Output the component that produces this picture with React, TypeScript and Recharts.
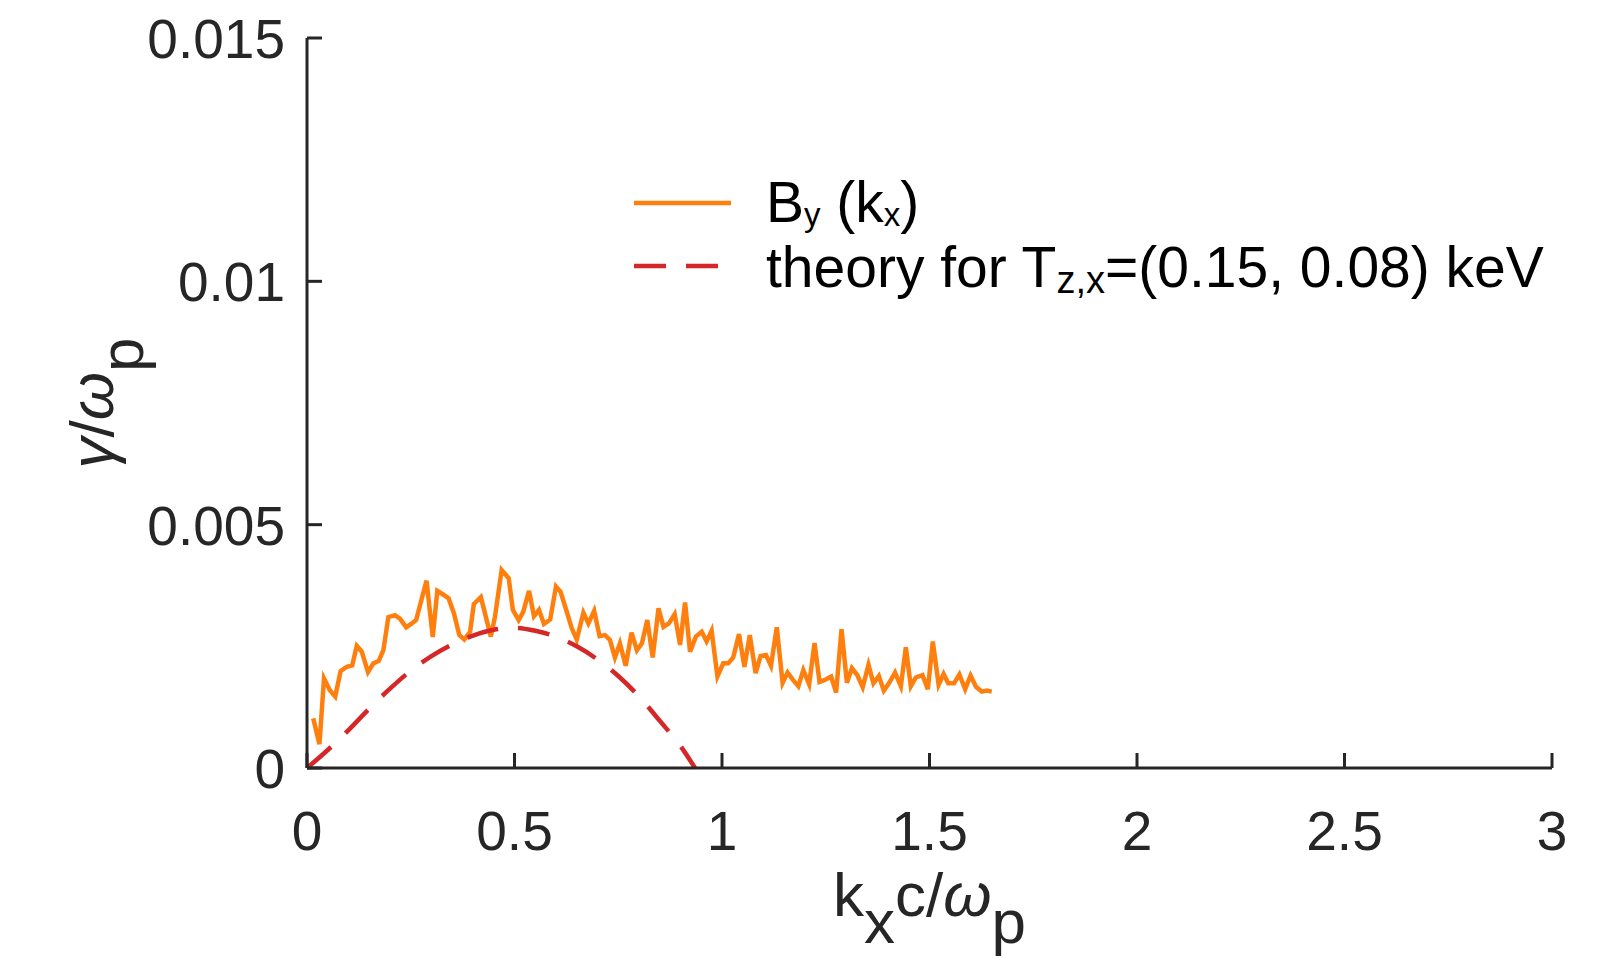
import { Line, LineChart, XAxis, YAxis, Label } from "recharts";

const FONT = '"Liberation Sans", Arial, Helvetica, sans-serif';
const AXIS_COLOR = "#262626";
const ORANGE = "#FF7F0E";
const RED = "#D62728";

// simulated growth rate of B_y vs k_x
const byK = [
  0.015, 0.03, 0.041, 0.055, 0.068, 0.081, 0.096, 0.109, 0.12, 0.132, 0.147, 0.16, 0.173, 0.184,
  0.196, 0.212, 0.224, 0.239, 0.251, 0.263, 0.288, 0.303, 0.314, 0.327, 0.341, 0.354, 0.367,
  0.379, 0.393, 0.402, 0.419, 0.443, 0.453, 0.469, 0.486, 0.496, 0.51, 0.521, 0.535, 0.547,
  0.559, 0.571, 0.586, 0.6, 0.611, 0.626, 0.638, 0.65, 0.666, 0.678, 0.692, 0.705, 0.718, 0.73,
  0.742, 0.754, 0.768, 0.782, 0.795, 0.807, 0.82, 0.833, 0.847, 0.859, 0.872, 0.886, 0.899,
  0.911, 0.923, 0.937, 0.951, 0.963, 0.975, 0.989, 1.003, 1.015, 1.027, 1.041, 1.054, 1.067,
  1.081, 1.093, 1.106, 1.118, 1.132, 1.146, 1.158, 1.171, 1.184, 1.196, 1.21, 1.223, 1.235,
  1.248, 1.263, 1.275, 1.288, 1.301, 1.313, 1.326, 1.339, 1.353, 1.365, 1.378, 1.39, 1.403,
  1.417, 1.431, 1.443, 1.455, 1.467, 1.483, 1.496, 1.508, 1.522, 1.534, 1.545, 1.559, 1.572,
  1.586, 1.599, 1.612, 1.626, 1.638, 1.65,
];
const byGamma = [
  0.00102, 0.00049, 0.00184, 0.0016, 0.00147, 0.00199, 0.00208, 0.00211, 0.00251, 0.00239,
  0.00197, 0.00215, 0.0022, 0.00242, 0.0031, 0.00314, 0.00307, 0.00289, 0.00296, 0.00304,
  0.00385, 0.00269, 0.00364, 0.00357, 0.00349, 0.00318, 0.00273, 0.00264, 0.0028, 0.00337,
  0.00351, 0.0027, 0.00311, 0.00407, 0.0039, 0.00325, 0.00304, 0.00321, 0.00364, 0.00312,
  0.00325, 0.00296, 0.00305, 0.00373, 0.00362, 0.00321, 0.00287, 0.00264, 0.00319, 0.00297,
  0.00323, 0.00271, 0.00273, 0.00263, 0.00227, 0.00256, 0.0021, 0.00278, 0.00242, 0.00256,
  0.00304, 0.00227, 0.00328, 0.0029, 0.00297, 0.00316, 0.00253, 0.0034, 0.00239, 0.0027,
  0.0028, 0.0026, 0.00282, 0.00188, 0.00215, 0.00215, 0.00227, 0.00275, 0.00208, 0.00273,
  0.00195, 0.0023, 0.00232, 0.0021, 0.00289, 0.00175, 0.00196, 0.00181, 0.00168, 0.00201,
  0.00172, 0.00257, 0.00177, 0.00181, 0.00188, 0.00155, 0.00285, 0.00175, 0.00205, 0.00191,
  0.00166, 0.00212, 0.00174, 0.00189, 0.00159, 0.00175, 0.00196, 0.00168, 0.00248, 0.00168,
  0.00186, 0.00191, 0.00162, 0.0026, 0.00171, 0.00193, 0.00174, 0.00174, 0.00192, 0.00162,
  0.0019, 0.00167, 0.00157, 0.00159, 0.00157,
];

// theory curve for T_z,x = (0.15, 0.08) keV
const theoryK = [
  0, 0.05, 0.1, 0.15, 0.2, 0.25, 0.3, 0.35, 0.4, 0.45, 0.5, 0.55, 0.6, 0.65, 0.7, 0.75, 0.8,
  0.85, 0.9, 0.935,
];
const theoryGamma = [
  0, 0.00037, 0.00078, 0.00122, 0.00163, 0.002, 0.0023, 0.00254, 0.00272, 0.00284, 0.00288,
  0.00282, 0.0027, 0.0025, 0.00223, 0.00189, 0.00147, 0.00097, 0.00045, 0,
];

const xTicks = [0, 0.5, 1, 1.5, 2, 2.5, 3];
const yTicks = [0, 0.005, 0.01, 0.015];

const byData = byK.map((k, i) => ({ k, g: byGamma[i] }));
const theoryData = theoryK.map((k, i) => ({ k, g: theoryGamma[i] }));

function XTick(props: any) {
  const { x, y, payload } = props;
  return (
    <g>
      <line x1={x} x2={x} y1={y} y2={y - 15} stroke={AXIS_COLOR} strokeWidth={3} />
      <text x={x} y={y + 82} textAnchor="middle" fontSize={55} fill={AXIS_COLOR} fontFamily={FONT}>
        {String(payload.value)}
      </text>
    </g>
  );
}

function YTick(props: any) {
  const { x, y, payload } = props;
  return (
    <g>
      <line x1={x} x2={x + 15} y1={y} y2={y} stroke={AXIS_COLOR} strokeWidth={3} />
      <text x={x - 22} y={y + 20} textAnchor="end" fontSize={55} fill={AXIS_COLOR} fontFamily={FONT}>
        {String(payload.value)}
      </text>
    </g>
  );
}

// legend drawn in svg space, top-left at (620, 160)
function LegendBox() {
  return (
    <g transform="translate(620 160)">
      <line x1={14} x2={111} y1={43} y2={43} stroke={ORANGE} strokeWidth={4.5} />
      <line x1={14} x2={111} y1={106} y2={106} stroke={RED} strokeWidth={4.5} strokeDasharray="32 20" />
      <text x={146} y={62} fontSize={57} fill="#000" fontFamily={FONT}>
        B<tspan fontSize={33} dy={4}>y</tspan>
        <tspan dy={-4}> (k</tspan>
        <tspan fontSize={33} dy={4}>x</tspan>
        <tspan dy={-4}>)</tspan>
      </text>
      <text x={146} y={127} fontSize={57} fill="#000" fontFamily={FONT}>
        theory for T<tspan fontSize={38} dy={6}>z,x</tspan>
        <tspan dy={-6}>=(0.15, 0.08) keV</tspan>
      </text>
    </g>
  );
}

export default function App() {
  return (
    <div style={{ position: "absolute", left: 0, top: 0, background: "#fff" }}>
      <LineChart width={1614} height={958} margin={{ top: 38, right: 62, bottom: 0, left: 0 }}>
        <XAxis
          type="number"
          dataKey="k"
          domain={[0, 3]}
          ticks={xTicks}
          height={190}
          tickSize={0}
          tickMargin={0}
          tick={XTick}
          axisLine={{ stroke: AXIS_COLOR, strokeWidth: 3 }}
          interval={0}
        >
          <Label
            content={({ viewBox }: any) => (
              <text
                x={viewBox.x + viewBox.width / 2}
                y={viewBox.y + 148}
                textAnchor="middle"
                fontSize={62}
                fill={AXIS_COLOR}
                fontFamily={FONT}
              >
                k<tspan dy={27}>x</tspan>
                <tspan dy={-27}>c/</tspan>
                <tspan fontStyle="italic">ω</tspan>
                <tspan dy={27}>p</tspan>
              </text>
            )}
          />
        </XAxis>
        <YAxis
          type="number"
          domain={[0, 0.015]}
          ticks={yTicks}
          width={307}
          tickSize={0}
          tickMargin={0}
          tick={YTick}
          axisLine={{ stroke: AXIS_COLOR, strokeWidth: 3 }}
          interval={0}
        >
          <Label
            content={() => (
              <g>
                <text
                  x={113}
                  y={403}
                  transform="rotate(-90 113 403)"
                  textAnchor="middle"
                  fontSize={62}
                  fill={AXIS_COLOR}
                  fontFamily={FONT}
                >
                  <tspan fontStyle="italic">γ</tspan>/<tspan fontStyle="italic">ω</tspan>
                  <tspan dy={30}>p</tspan>
                </text>
                <LegendBox />
              </g>
            )}
          />
        </YAxis>
        <Line
          data={byData}
          dataKey="g"
          type="linear"
          stroke={ORANGE}
          strokeWidth={4.5}
          dot={false}
          isAnimationActive={false}
          name="By"
        />
        <Line
          data={theoryData}
          dataKey="g"
          type="monotone"
          stroke={RED}
          strokeWidth={4.5}
          strokeDasharray="32 20"
          dot={false}
          isAnimationActive={false}
          name="theory"
        />
      </LineChart>
    </div>
  );
}
